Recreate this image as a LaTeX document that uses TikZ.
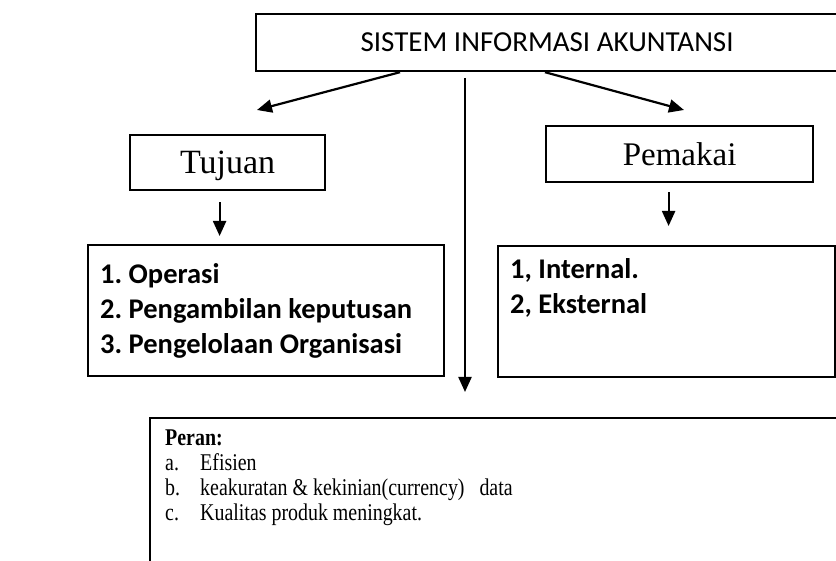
\documentclass[tikz,border=0pt]{standalone}
\usepackage{fontspec}
\setmainfont{Liberation Serif}
\newfontfamily\calibri{Carlito}
\newfontfamily\sempit[FakeStretch=0.83]{Liberation Serif}
\usetikzlibrary{arrows.meta,positioning}

\begin{document}
\frenchspacing
\begin{tikzpicture}[x=1pt,y=-1pt,
        kotak/.style={draw,line width=2.2pt,inner sep=0pt,anchor=north west},
        panah/.style={line width=2.2pt,-{Triangle[length=15pt,width=13pt]}},
        isi/.style={inner sep=0pt,anchor=north west,align=left}]
    \useasboundingbox (0,0) rectangle (836,561);
    \clip (0,0) rectangle (836,561);
    % kotak utama
    \node[kotak,minimum width=582,minimum height=57] (sia) at (255,13)
        {\calibri\fontsize{29}{35}\selectfont SISTEM INFORMASI AKUNTANSI};
    \node[kotak,minimum width=195,minimum height=55,text height=27pt,text depth=6pt]
        (tujuan) at (129,134) {\fontsize{34}{40}\selectfont Tujuan};
    \node[kotak,minimum width=267,minimum height=56] (pemakai) at (545,125)
        {\fontsize{33}{40}\selectfont Pemakai};
    % kotak isi
    \node[kotak,minimum width=356,minimum height=131] (tujuanisi) at (87,244) {};
    \node[isi,font={\calibri\bfseries\fontsize{28.5}{35}\selectfont},
        below right=19pt and 13pt of tujuanisi.north west] (tujuanteks)
        {1. Operasi\\2. Pengambilan keputusan\\3. Pengelolaan Organisasi};
    \node[kotak,minimum width=337,minimum height=131] (pemakaiisi) at (497,245) {};
    \node[isi,font={\calibri\bfseries\fontsize{28.5}{35}\selectfont},
        below right=13pt and 13pt of pemakaiisi.north west] (pemakaiteks)
        {1, Internal.\\2, Eksternal};
    \node[kotak,minimum width=700,minimum height=160] (peran) at (149,417) {};
    \node[isi,font={\sempit\fontsize{24}{25}\selectfont},
        below right=13pt and 16pt of peran.north west] (peranteks)
        {\textbf{Peran:}\\
        \makebox[35pt][l]{a.}Efisien\\
        \makebox[35pt][l]{b.}keakuratan \& kekinian(currency)\ \ \ data\\
        \makebox[35pt][l]{c.}Kualitas produk meningkat.};
    % panah
    \coordinate (kiri) at (257,110);
    \coordinate (kanan) at (684,110);
    \coordinate (tengah) at (465,78);
    \draw[panah] ([xshift=145pt]sia.south west) -- (kiri);
    \draw[panah] ([xshift=290pt]sia.south west) -- (kanan);
    \draw[panah] (tengah) -- ([yshift=25pt]peran.north -| tengah);
    \draw[panah,shorten <=11pt,shorten >=8pt] ([xshift=-8pt]tujuan.south)
        -- ([xshift=-8pt]tujuan.south |- tujuanisi.north);
    \draw[panah,shorten <=9pt,shorten >=19pt] ([xshift=-11pt]pemakai.south)
        -- ([xshift=-11pt]pemakai.south |- pemakaiisi.north);
\end{tikzpicture}
\end{document}
